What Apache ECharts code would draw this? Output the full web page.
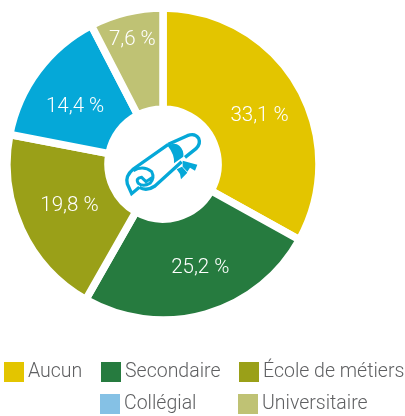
<!DOCTYPE html>
<html><head><meta charset="utf-8">
<style>html,body{margin:0;padding:0;background:#fff}#c{width:405px;height:416px}</style>
<script src="https://cdn.jsdelivr.net/npm/echarts@6/dist/echarts.min.js"></script></head>
<body><div id="c"></div><script>
const categories=['Aucun','Secondaire','École de métiers','Collégial','Universitaire'];
const values=[33.1,25.2,19.8,14.4,7.6];
const sliceColors=['#e3c500','#267b3f','#9aa018','#05a8d8','#bfc274'];
const legendColors=['#e3c500','#267b3f','#9aa018','#85c1e5','#bfc274'];
const legendPos=[[4,362],[101,362],[239,362],[100,394],[238,394]];
const labelNudge=[[3,7],[8,-1],[5,-4],[-1,8],[-5,-19]];
const font='Roboto,sans-serif';
const blue='#05a8d8';
const g=echarts.graphic;
g.registerShape('scrollOutline',g.extendPath('M 205,133 L 262,107 Q 285,98 296,115 Q 303,132 288,146 L 255,172 M 205,133 L 100,207 Q 75,228 82,252 L 95,281 L 118,262 M 118,262 Q 140,275 165,258 L 245,185',{}));
g.registerShape('scrollCurl',g.extendPath('M 100,212 Q 130,195 155,215 Q 165,235 150,250 Q 130,262 115,250 Q 105,235 125,232 L 138,245 L 158,232',{}));
g.registerShape('scrollBand',g.extendPath('M 203,137 Q 225,125 238,137 Q 252,150 250,170 L 222,190 Q 225,165 203,137 Z',{}));
g.registerShape('scrollRibbon',g.extendPath('M 248,182 L 292,194 L 285,212 L 270,203 L 262,215 L 248,200 Z M 230,208 L 246,200 L 262,218 L 243,238 L 240,222 Z',{}));
const chart=echarts.init(document.getElementById('c'),null,{renderer:'canvas'});
chart.setOption({
 animation:false,
 legend:categories.map((n,i)=>({
  left:legendPos[i][0],top:legendPos[i][1],padding:0,icon:'rect',itemWidth:20,itemHeight:20,selectedMode:false,
  data:[{name:n,icon:'rect',itemStyle:{color:legendColors[i],borderWidth:0}}],
  textStyle:{fontFamily:font,fontSize:19.5,fontWeight:300,color:'#5f6062',padding:[2,0,0,-1]}
 })),
 series:[{
  type:'pie',center:[163,164],radius:[55,156],startAngle:90,clockwise:true,silent:true,
  itemStyle:{borderColor:'#fff',borderWidth:7.5},
  label:{show:true,position:'inside',formatter:p=>p.value.toFixed(1).replace('.',',')+' %',
   color:'#fff',fontFamily:font,fontSize:20.5,fontWeight:300},
  labelLine:{show:false},
  data:categories.map((n,i)=>({name:n,value:values[i],itemStyle:{color:sliceColors[i]},label:{offset:labelNudge[i]}}))
 }],
 graphic:[{type:'group',x:100,y:100,scaleX:1/3,scaleY:1/3,silent:true,children:[
  {type:'scrollOutline',style:{fill:'none',stroke:blue,lineWidth:10}},
  {type:'scrollCurl',style:{fill:'none',stroke:blue,lineWidth:9}},
  {type:'scrollBand',style:{fill:blue}},
  {type:'scrollRibbon',style:{fill:blue}}
 ]}]
});
</script></body></html>
